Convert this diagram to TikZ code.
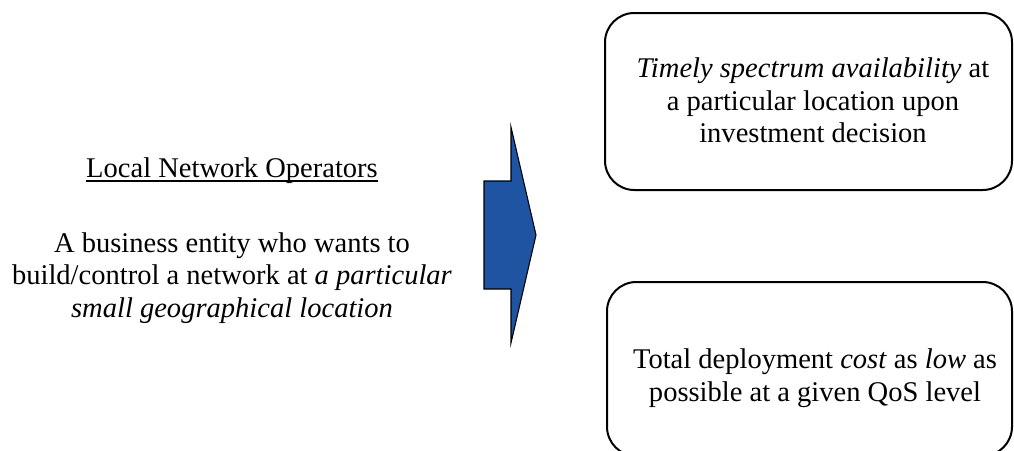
\documentclass[tikz,border=0pt]{standalone}
\usepackage{fontspec}
\setmainfont{Liberation Serif}
\usepackage{tikz}
\usetikzlibrary{calc}

\begin{document}
\begin{tikzpicture}[x=0.75pt,y=0.75pt,yscale=-1,xscale=1,
  txt/.style={align=center, inner sep=0pt, font=\fontsize{21.4}{24.5}\selectfont},
  rbox/.style={line width=1.5, rounded corners=22}]
%set diagram left start at 0, and has height of 450
\useasboundingbox (0,0) rectangle (1014,450);

%Text Node
\node [txt, anchor=base] (title) at (232,177) {Local Network Operators};
%Straight Lines [id:underline]
\draw [line width=1.1] ($(title.base west)+(0,4)$) -- ($(title.base east)+(0,4)$) ;
%Text Node
\node [txt] (entity) at (232,278) {A business entity who wants to\\build/control a network at \textit{a particular}\\\textit{small geographical location}};

%Shape: Polygon [id:arrow]
\draw  [line width=0.8, fill={rgb, 255:red, 31; green, 84; blue, 163 }  ,fill opacity=1 ] (484,181) -- (511,181) -- (511,127) -- (536,235) -- (511,343) -- (511,289) -- (484,289) -- cycle ;

%Rounded Rect [id:timely]
\draw  [rbox] (605,13) rectangle (1012,190) ;
%Text Node
\node [txt] (timely) at (813,100.5) {\textit{Timely spectrum availability} at\\a particular location upon\\investment decision};

%Rounded Rect [id:cost]
\draw  [rbox] (607,282) rectangle (1012,456) ;
%Text Node
\node [txt] (cost) at (815,378) {Total deployment \textit{cost} as \textit{low} as\\possible at a given QoS level};

\end{tikzpicture}
\end{document}
